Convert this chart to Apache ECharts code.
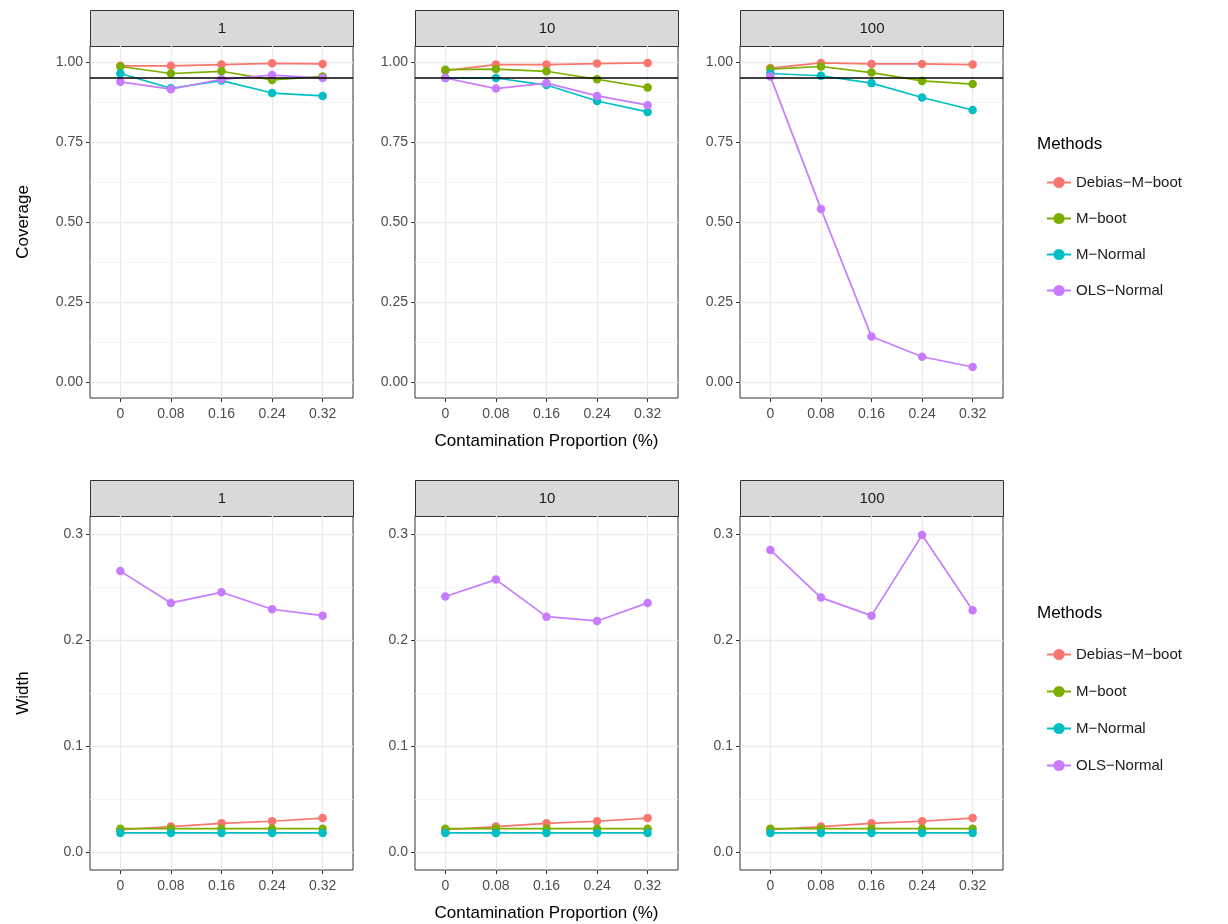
<!DOCTYPE html>
<html lang="en">
  <head>
    <meta charset="UTF-8" />
    <title>Coverage and width by contamination</title>
    <script src="https://cdn.jsdelivr.net/npm/echarts@6/dist/echarts.min.js"></script>
    <style>
      body { margin: 0; background: #fff; }
      #chart { width: 1228px; height: 924px; }
    </style>
  </head>
  <body>
    <div id="chart"></div>
  </body>
</html>
<script>
  // data
  const categories = ["0", "0.08", "0.16", "0.24", "0.32"];
  const panels = ["1", "10", "100"];
  const methods = ["Debias−M−boot", "M−boot", "M−Normal", "OLS−Normal"];
  const colors = ["#F8766D", "#7CAE00", "#00BFC4", "#C77CFF"];

  // coverage, one row per panel (1, 10, 100)
  const covDebias = [
    [0.988, 0.988, 0.992, 0.996, 0.994],
    [0.973, 0.992, 0.992, 0.995, 0.997],
    [0.981, 0.997, 0.994, 0.994, 0.992],
  ];
  const covMboot = [
    [0.986, 0.964, 0.971, 0.944, 0.955],
    [0.976, 0.978, 0.971, 0.946, 0.920],
    [0.978, 0.986, 0.967, 0.941, 0.931],
  ];
  const covMnormal = [
    [0.964, 0.918, 0.942, 0.903, 0.894],
    [0.950, 0.950, 0.928, 0.878, 0.844],
    [0.964, 0.957, 0.934, 0.889, 0.850],
  ];
  const covOls = [
    [0.938, 0.915, 0.946, 0.959, 0.950],
    [0.950, 0.917, 0.934, 0.894, 0.865],
    [0.955, 0.541, 0.142, 0.079, 0.047],
  ];
  const nominal = 0.95;

  // interval width, one row per panel
  const widDebias = [
    [0.021, 0.024, 0.027, 0.029, 0.032],
    [0.021, 0.024, 0.027, 0.029, 0.032],
    [0.021, 0.024, 0.027, 0.029, 0.032],
  ];
  const widMboot = [
    [0.022, 0.022, 0.022, 0.022, 0.022],
    [0.022, 0.022, 0.022, 0.022, 0.022],
    [0.022, 0.022, 0.022, 0.022, 0.022],
  ];
  const widMnormal = [
    [0.018, 0.018, 0.018, 0.018, 0.018],
    [0.018, 0.018, 0.018, 0.018, 0.018],
    [0.018, 0.018, 0.018, 0.018, 0.018],
  ];
  const widOls = [
    [0.265, 0.235, 0.245, 0.229, 0.223],
    [0.241, 0.257, 0.222, 0.218, 0.235],
    [0.285, 0.240, 0.223, 0.299, 0.228],
  ];

  const covTicks = [0, 0.25, 0.5, 0.75, 1];
  const covMinor = [0.125, 0.375, 0.625, 0.875];
  const widTicks = [0, 0.1, 0.2, 0.3];
  const widMinor = [0.05, 0.15, 0.25];

  const chart = echarts.init(document.getElementById("chart"));

  const panelLeft = [90, 415, 740];
  const panelW = 263;
  const rows = [
    { top: 46, height: 352, stripTop: 10, min: -0.05, max: 1.05, ticks: covTicks, minor: covMinor, dec: 2, title: "Coverage",
      data: [covDebias, covMboot, covMnormal, covOls] },
    { top: 516, height: 354, stripTop: 480, min: -0.017, max: 0.317, ticks: widTicks, minor: widMinor, dec: 1, title: "Width",
      data: [widDebias, widMboot, widMnormal, widOls] },
  ];

  const grid = [], xAxis = [], yAxis = [], series = [], graphic = [];
  const labelStyle = { color: "#4D4D4D", fontSize: 14, fontFamily: "Liberation Sans" };
  const tickStyle = { show: true, length: 4, inside: false, lineStyle: { color: "#333", width: 1 } };

  rows.forEach((row, r) => {
    panels.forEach((p, c) => {
      const g = grid.length;
      grid.push({
        left: panelLeft[c], top: row.top, width: panelW, height: row.height,
        show: true, borderColor: "#333", borderWidth: 1, backgroundColor: "#fff",
      });
      xAxis.push({
        type: "value", gridIndex: g, min: -0.6, max: 4.6, position: "bottom",
        axisLine: { show: false, onZero: false },
        axisTick: Object.assign({ customValues: [0, 1, 2, 3, 4] }, tickStyle),
        axisLabel: Object.assign({ customValues: [0, 1, 2, 3, 4], margin: 9,
          formatter: (v) => categories[Math.round(v)] }, labelStyle),
        splitLine: { show: true, lineStyle: { color: "#EBEBEB", width: 1.3 } },
        name: c === 1 ? "Contamination Proportion (%)" : "",
        nameLocation: "middle", nameGap: 35,
        nameTextStyle: { fontSize: 17, color: "#000", fontFamily: "Liberation Sans" },
      });
      // major axis
      yAxis.push({
        type: "value", gridIndex: g, min: row.min, max: row.max, position: "left",
        axisLine: { show: false, onZero: false },
        axisTick: Object.assign({ customValues: row.ticks }, tickStyle),
        axisLabel: Object.assign({ customValues: row.ticks, margin: 7,
          formatter: (v) => v.toFixed(row.dec) }, labelStyle),
        splitLine: { show: true, lineStyle: { color: "#EBEBEB", width: 1.3 } },
        name: c === 0 ? row.title : "",
        nameLocation: "middle", nameGap: 58, nameRotate: 90,
        nameTextStyle: { fontSize: 17, color: "#000", fontFamily: "Liberation Sans" },
      });
      const yMajor = yAxis.length - 1;
      // minor grid lines
      yAxis.push({
        type: "value", gridIndex: g, min: row.min, max: row.max, position: "left",
        axisLine: { show: false, onZero: false },
        axisTick: { show: false, customValues: row.minor },
        axisLabel: { show: false },
        splitLine: { show: true, lineStyle: { color: "#F2F2F2", width: 0.8 } },
      });

      methods.forEach((m, k) => {
        series.push({
          name: m, type: "line", xAxisIndex: g, yAxisIndex: yMajor,
          data: row.data[k][c].map((v, i) => [i, v]),
          symbol: "circle", symbolSize: 8.5,
          lineStyle: { width: 1.7, color: colors[k] },
          itemStyle: { color: colors[k] },
          emphasis: { disabled: true },
          animation: false,
        });
      });
      if (r === 0) {
        series.push({
          type: "line", xAxisIndex: g, yAxisIndex: yMajor, data: [], z: 10,
          markLine: {
            silent: true, symbol: "none", label: { show: false },
            lineStyle: { color: "#000", width: 1.6, type: "solid" },
            data: [{ yAxis: nominal }],
          },
          animation: false,
        });
      }

      // facet strip
      graphic.push({
        type: "group", left: panelLeft[c], top: row.stripTop,
        children: [
          { type: "rect", shape: { x: 0, y: 0, width: panelW, height: 36 },
            style: { fill: "#D9D9D9", stroke: "#333", lineWidth: 1 } },
          { type: "text", x: panelW / 2, y: 18,
            style: { text: p, fill: "#1A1A1A", fontSize: 15, fontFamily: "Liberation Sans",
              textAlign: "center", textVerticalAlign: "middle" } },
        ],
      });
    });
  });

  graphic.push(
    { type: "text", left: 1037, top: 136,
      style: { text: "Methods", fill: "#000", fontSize: 17, fontFamily: "Liberation Sans" } },
    { type: "text", left: 1037, top: 605,
      style: { text: "Methods", fill: "#000", fontSize: 17, fontFamily: "Liberation Sans" } }
  );

  const legendBase = {
    data: methods, orient: "vertical", left: 1041, itemWidth: 24, itemHeight: 14,
    itemGap: 21, selectedMode: false,
    textStyle: { fontSize: 15, color: "#1A1A1A", fontFamily: "Liberation Sans" },
  };

  const option = {
    backgroundColor: "#fff",
    animation: false,
    grid, xAxis, yAxis, series, graphic,
    legend: [
      Object.assign({}, legendBase, { top: 170 }),
      Object.assign({}, legendBase, { top: 642, itemGap: 22 }),
    ],
  };
  chart.setOption(option);
</script>
